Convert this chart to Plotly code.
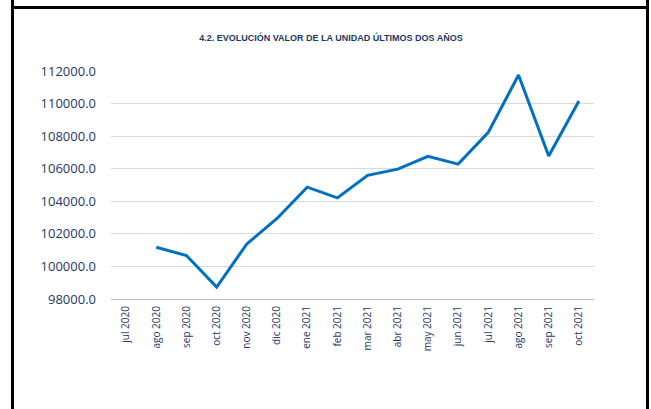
import plotly.graph_objects as go

months = ["jul 2020", "ago 2020", "sep 2020", "oct 2020", "nov 2020", "dic 2020",
          "ene 2021", "feb 2021", "mar 2021", "abr 2021", "may 2021", "jun 2021",
          "jul 2021", "ago 2021", "sep 2021", "oct 2021"]
valor_unidad = [None, 101180, 100670, 98735, 101380, 102945, 104870, 104210,
                105590, 105975, 106760, 106280, 108235, 111750, 106775, 110160]
y_ticks = [98000, 100000, 102000, 104000, 106000, 108000, 110000, 112000]
y_tick_labels = [f"{v:.1f}" for v in y_ticks]
title_text = "4.2. EVOLUCIÓN VALOR DE LA UNIDAD ÚLTIMOS DOS AÑOS"

W, H = 651, 409
L, R, T, B = 111, 57, 71, 110
pw, ph = W - L - R, H - T - B

def px_x(p):
    return (p - L) / pw

def px_y(p):
    return (H - B - p) / ph

fig = go.Figure()
fig.add_trace(go.Scatter(
    x=months, y=valor_unidad, mode="lines",
    line=dict(color="#0070C0", width=3),
    connectgaps=False, hoverinfo="x+y", showlegend=False,
))

border = dict(color="black", width=3)
shapes = [
    dict(type="line", xref="paper", yref="paper", x0=px_x(12.5), x1=px_x(12.5),
         y0=px_y(0), y1=px_y(H), line=border, layer="above"),
    dict(type="line", xref="paper", yref="paper", x0=px_x(647.5), x1=px_x(647.5),
         y0=px_y(0), y1=px_y(H), line=border, layer="above"),
    dict(type="line", xref="paper", yref="paper", x0=px_x(11), x1=px_x(649),
         y0=px_y(7.5), y1=px_y(7.5), line=border, layer="above"),
]

fig.update_layout(
    width=W, height=H,
    margin=dict(l=L, r=R, t=T, b=B, pad=0),
    paper_bgcolor="white", plot_bgcolor="white",
    font=dict(family="Liberation Sans Narrow, Liberation Sans, sans-serif", color="#1F3864"),
    title=dict(text=f"<b>{title_text}</b>", x=331 / W, xref="container", xanchor="center",
               y=1 - 38 / H, yref="container", yanchor="middle",
               font=dict(size=9, color="#1F3864",
                         family="Liberation Sans Narrow, Liberation Sans, sans-serif")),
    shapes=shapes,
    xaxis=dict(type="category", categoryorder="array", categoryarray=months,
               tickangle=-90, tickfont=dict(size=10, color="#1F3864",
                                            family="Open Sans, sans-serif"),
               showgrid=False, showline=True, linecolor="#BFBFBF", linewidth=1,
               ticks="", ticklen=0, ticklabelstandoff=2,
               range=[-0.5, len(months) - 0.5]),
    yaxis=dict(range=[98000, 112000], tickvals=y_ticks, ticktext=y_tick_labels,
               showgrid=True, gridcolor="#D9D9D9", gridwidth=1, zeroline=False,
               tickfont=dict(size=13, color="#1F3864", family="Open Sans, sans-serif"),
               ticks="", ticklabelstandoff=14, showline=False),
)

fig.write_html("out.html", config={"displayModeBar": False},
               post_script="document.body.style.margin='0';document.body.style.overflow='hidden';")
